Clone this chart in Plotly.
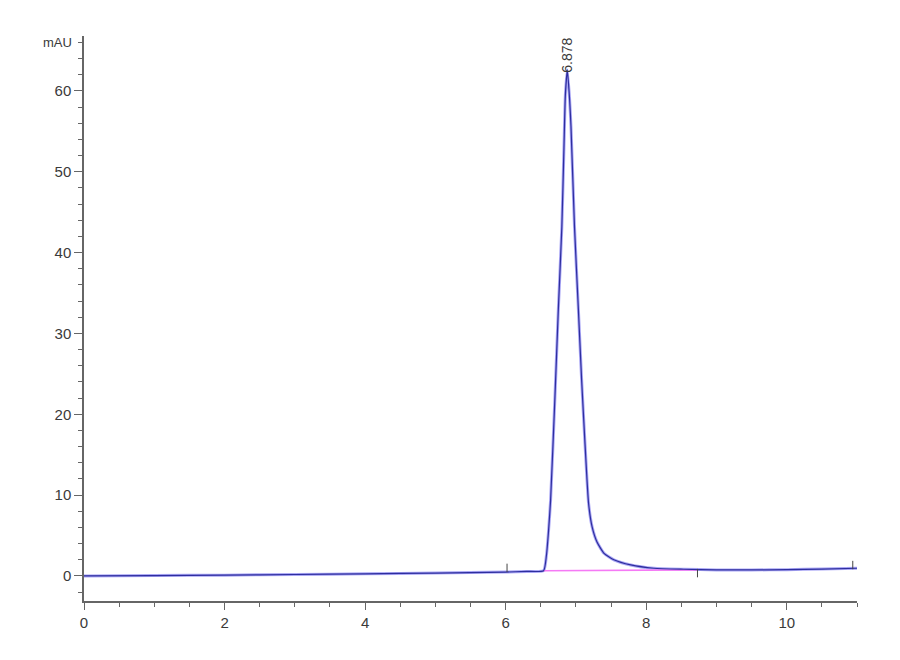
import plotly.graph_objects as go

# Chromatogram trace (time in min, signal in mAU)
time_min = [0.0, 1.0, 2.0, 3.0, 4.0, 5.0, 6.0, 6.3, 6.54, 6.58, 6.61, 6.64,
            6.70, 6.75, 6.80, 6.83, 6.85, 6.878, 6.91, 6.93, 6.98, 7.035,
            7.08, 7.11, 7.15, 7.18, 7.23, 7.30, 7.40, 7.54, 7.78, 8.11,
            8.53, 9.0, 9.5, 10.0, 10.5, 11.0]
signal_mau = [0.0, 0.05, 0.1, 0.18, 0.26, 0.36, 0.48, 0.56, 0.65, 2.5, 5.5, 9.4,
              21.8, 33.0, 43.2, 53.0, 59.5, 62.6, 59.0, 55.6, 43.2, 33.0,
              24.5, 19.5, 13.1, 9.0, 6.1, 4.2, 2.8, 2.0, 1.36, 0.95,
              0.83, 0.75, 0.74, 0.78, 0.85, 0.95]

# integration baseline under the peak
baseline_t = [6.54, 8.73]
baseline_y = [0.65, 0.75]

# integration event ticks
event_t = [6.02, 8.73, 10.94]
event_y = [1.0, 0.35, 1.35]

peak_rt = 6.878
peak_height = 62.6

line_color = "#2e2e9e"
halo_color = "#a9a6f5"
base_color = "#f57af5"
axis_color = "#666666"
text_color = "#3a3a3a"

fig = go.Figure()

fig.add_trace(
    go.Scatter(
        x=time_min,
        y=signal_mau,
        mode="lines",
        line=dict(color=halo_color, width=3, shape="spline", smoothing=0.5),
        hoverinfo="skip",
    )
)
fig.add_trace(
    go.Scatter(
        x=baseline_t,
        y=baseline_y,
        mode="lines",
        line=dict(color=base_color, width=1.6),
    )
)
fig.add_trace(
    go.Scatter(
        x=time_min,
        y=signal_mau,
        mode="lines",
        line=dict(color=line_color, width=1.2, shape="spline", smoothing=0.5),
    )
)
fig.add_trace(
    go.Scatter(
        x=event_t,
        y=event_y,
        mode="markers",
        marker=dict(symbol="line-ns", size=6, line=dict(color="#444444", width=1)),
    )
)

# peak label, rotated like the instrument printout
fig.add_annotation(
    x=peak_rt,
    y=peak_height,
    text=f"{peak_rt:.3f}",
    textangle=-90,
    showarrow=False,
    yanchor="bottom",
    yshift=-5,
    font=dict(family="Liberation Sans", size=14, color=text_color),
)

# unit label at top of y axis
fig.add_annotation(
    x=0,
    xref="paper",
    y=66,
    yref="y",
    text="mAU",
    showarrow=False,
    xanchor="right",
    xshift=-10,
    font=dict(family="Liberation Sans", size=13, color=text_color),
)

# page body adds 8px, so margins are shifted to land the axes where the reference has them
fig.update_layout(
    width=900,
    height=660,
    template="plotly_white",
    plot_bgcolor="white",
    paper_bgcolor="white",
    showlegend=False,
    margin=dict(l=76, r=51, t=28, b=67),
    font=dict(family="Liberation Sans", size=15, color=text_color),
    xaxis=dict(
        range=[0, 11.0],
        dtick=2,
        tick0=0,
        automargin=False,
        showgrid=False,
        zeroline=False,
        showline=True,
        linecolor=axis_color,
        linewidth=1.5,
        ticks="outside",
        ticklen=7,
        tickcolor=axis_color,
        tickwidth=1.2,
        minor=dict(dtick=0.5, ticks="outside", ticklen=4, tickcolor=axis_color, showgrid=False),
    ),
    yaxis=dict(
        range=[-3.1, 66.8],
        dtick=10,
        tick0=0,
        automargin=False,
        showgrid=False,
        zeroline=False,
        showline=True,
        linecolor=axis_color,
        linewidth=1.5,
        ticks="outside",
        ticklen=8,
        tickcolor=axis_color,
        tickwidth=1.2,
        minor=dict(dtick=2, ticks="outside", ticklen=4, tickcolor=axis_color, showgrid=False),
    ),
)

fig.write_html("out.html")
